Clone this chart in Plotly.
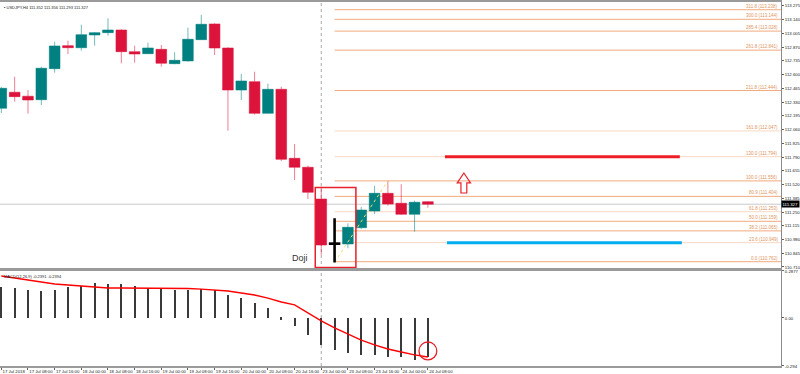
import plotly.graph_objects as go

# ---------------- data ----------------
chart_title = "USDJPY,H4 111.352 111.356 111.293 111.327"
macd_title = "MACD(12,26,9) -0.2391 -0.2394"

bar_index = list(range(33))
open_ = [112.270, 112.427, 112.388, 112.354, 112.659, 112.885, 112.865, 112.990, 113.013, 113.039,
         112.826, 112.806, 112.849, 112.708, 112.735, 112.944, 113.098, 112.862, 112.449, 112.531,
         112.220, 112.456, 111.778, 111.690, 111.378, 110.939, 110.936, 111.096, 111.260, 111.434,
         111.336, 111.228, 111.352]
high = [112.479, 112.580, 112.449, 112.678, 112.924, 112.934, 113.091, 113.020, 113.154, 113.046,
        112.885, 112.914, 112.892, 112.820, 113.062, 113.187, 113.105, 112.869, 112.607, 112.629,
        112.511, 112.482, 111.919, 111.706, 111.499, 111.189, 111.139, 111.300, 111.506, 111.558,
        111.523, 111.362, 111.356]
low = [112.223, 112.335, 112.217, 112.302, 112.620, 112.803, 112.836, 112.885, 112.983, 112.712,
       112.718, 112.803, 112.678, 112.702, 112.728, 112.941, 112.793, 112.049, 112.351, 112.207,
       112.218, 111.752, 111.565, 111.378, 110.828, 110.755, 110.894, 111.083, 111.231, 111.312,
       111.221, 111.057, 111.293]
close = [112.466, 112.384, 112.351, 112.663, 112.882, 112.865, 112.993, 113.013, 113.039, 112.826,
         112.803, 112.862, 112.712, 112.741, 112.948, 113.095, 112.862, 112.449, 112.538, 112.220,
         112.456, 111.768, 111.690, 111.444, 110.926, 110.943, 111.100, 111.270, 111.434, 111.329,
         111.228, 111.346, 111.327]

macd_hist = [0.192, 0.182, 0.171, 0.165, 0.171, 0.192, 0.198, 0.212, 0.206, 0.206,
             0.198, 0.185, 0.177, 0.171, 0.171, 0.177, 0.171, 0.141, 0.122, 0.092,
             0.061, -0.010, -0.050, -0.104, -0.165, -0.196, -0.214, -0.226, -0.226, -0.239,
             -0.239, -0.257, -0.239]
macd_signal = [0.257, 0.245, 0.233, 0.220, 0.208, 0.202, 0.196, 0.190, 0.184, 0.184,
               0.184, 0.184, 0.184, 0.184, 0.181, 0.177, 0.171, 0.165, 0.153, 0.141,
               0.122, 0.098, 0.080, 0.031, -0.018, -0.061, -0.098, -0.135, -0.165, -0.190,
               -0.208, -0.226, -0.239]

tick_index = [0, 2, 4, 6, 8, 10, 12, 14, 16, 18, 20, 22, 24, 26, 28, 30, 32]
tick_text = ["17 Jul 2018", "17 Jul 08:00", "17 Jul 16:00", "18 Jul 00:00", "18 Jul 08:00",
             "18 Jul 16:00", "19 Jul 00:00", "19 Jul 08:00", "19 Jul 16:00", "20 Jul 00:00",
             "20 Jul 08:00", "20 Jul 16:00", "23 Jul 00:00", "23 Jul 08:00", "23 Jul 16:00",
             "24 Jul 00:00", "24 Jul 08:00"]

price_ticks = ["113.275", "113.140", "113.005", "112.870", "112.735", "112.600", "112.465",
               "112.330", "112.195", "112.060", "111.925", "111.790", "111.655", "111.520",
               "111.385", "111.250", "111.115", "110.980", "110.845", "110.710"]
macd_ticks = ["0.2877", "0.00", "-0.294"]

fib_levels = ["311.8", "300.0", "285.4", "261.8", "211.8", "161.8", "130.0", "100.0",
              "80.9", "61.8", "50.0", "38.2", "23.6", "0.0"]
fib_prices = [113.238, 113.144, 113.028, 112.841, 112.444, 112.047, 111.794, 111.556,
              111.404, 111.253, 111.159, 111.065, 110.949, 110.762]
fib_pale = [False, False, False, False, False, True, True, False, False, True, False, False, True, False]

current_price = 111.327
doji_bar = 25
zigzag_bars = [25, 29]
zigzag_prices = [110.755, 111.558]
target_price = 111.794     # red line
stop_price = 110.949       # blue line

# ---------------- figure ----------------
X0, X1 = -0.1, 58.49
TEAL = "#008080"
RED = "#dc143c"
FONT = "Liberation Sans"

fig = go.Figure()

fig.add_trace(go.Scatter(x=zigzag_bars, y=zigzag_prices, mode="lines",
                         line=dict(color="#f3dc6a", width=1, dash="dot"),
                         xaxis="x", yaxis="y", hoverinfo="skip", showlegend=False))

fig.add_trace(go.Candlestick(
    x=bar_index, open=open_, high=high, low=low, close=close,
    increasing=dict(fillcolor=TEAL, line=dict(color="rgba(0,128,128,0.55)", width=1)),
    decreasing=dict(fillcolor=RED, line=dict(color="rgba(220,20,60,0.55)", width=1)),
    whiskerwidth=0, xaxis="x", yaxis="y", showlegend=False))

d = doji_bar
fig.add_trace(go.Scatter(x=[d, d], y=[high[d], low[d]], mode="lines",
                         line=dict(color="black", width=2.6), xaxis="x", yaxis="y",
                         hoverinfo="skip", showlegend=False))
fig.add_trace(go.Scatter(x=[d - 0.43, d + 0.43], y=[open_[d], open_[d]], mode="lines",
                         line=dict(color="black", width=2.6), xaxis="x", yaxis="y",
                         hoverinfo="skip", showlegend=False))

fig.add_trace(go.Scatter(x=[33.28, 50.9], y=[target_price, target_price], mode="lines",
                         line=dict(color="#ee1c24", width=3), xaxis="x", yaxis="y",
                         hoverinfo="skip", showlegend=False))
fig.add_trace(go.Scatter(x=[33.43, 51.05], y=[stop_price, stop_price], mode="lines",
                         line=dict(color="#00aeef", width=3), xaxis="x", yaxis="y",
                         hoverinfo="skip", showlegend=False))

fig.add_trace(go.Bar(x=bar_index, y=macd_hist, width=0.08, marker=dict(color="#3a3a3a", line=dict(width=0)),
                     xaxis="x2", yaxis="y2", showlegend=False))
fig.add_trace(go.Scatter(x=bar_index, y=macd_signal, mode="lines",
                         line=dict(color="#ff0000", width=1.4), xaxis="x2", yaxis="y2",
                         showlegend=False))

shapes = []
shapes.append(dict(type="line", xref="x", yref="y", x0=X0, x1=X1 + 1, y0=current_price, y1=current_price,
                   line=dict(color="#c8c8c8", width=1), layer="below"))
for p, pale in zip(fib_prices, fib_pale):
    shapes.append(dict(type="line", xref="x", yref="y", x0=doji_bar, x1=X1 + 1, y0=p, y1=p,
                       line=dict(color="#f8d8c4" if pale else "#f2aa7c", width=1), layer="below"))
shapes.append(dict(type="line", xref="x", yref="paper", x0=24, x1=24, y0=0, y1=1,
                   line=dict(color="#a8a8a8", width=1, dash="dot"), layer="below"))
shapes.append(dict(type="rect", xref="x", yref="y", x0=23.55, x1=26.6, y0=110.705, y1=111.49,
                   line=dict(color="#e8202a", width=1.5)))
ax, tip, base, bot = 34.7, 111.634, 111.536, 111.437
shapes.append(dict(type="path", xref="x", yref="y",
                   path=(f"M {ax},{tip} L {ax+0.5},{base} L {ax+0.22},{base} L {ax+0.22},{bot} "
                         f"L {ax-0.22},{bot} L {ax-0.22},{base} L {ax-0.5},{base} Z"),
                   line=dict(color="#e8202a", width=1.2), fillcolor="rgba(0,0,0,0)"))
shapes.append(dict(type="circle", xref="x2", yref="y2", x0=31.33, x1=32.67, y0=-0.257, y1=-0.147,
                   line=dict(color="#e8202a", width=1.3)))

annotations = []
for lvl, p, pale in zip(fib_levels, fib_prices, fib_pale):
    annotations.append(dict(xref="paper", yref="y", x=1, y=p, xanchor="right", yanchor="bottom",
                            text=f"{lvl} ({p:.3f})", showarrow=False,
                            font=dict(family=FONT, size=4.5, color="#e0955e"), xshift=-1, yshift=-1))
annotations.append(dict(xref="paper", yref="y", x=1, y=current_price, xanchor="left", yanchor="middle",
                        text=f"{current_price:.3f}", showarrow=False, bgcolor="black", borderpad=0.5,
                        font=dict(family=FONT, size=4.3, color="white")))
annotations.append(dict(xref="x", yref="y", x=22.4, y=110.80, text="Doji", showarrow=False,
                        font=dict(family=FONT, size=9, color="#333333")))
annotations.append(dict(xref="paper", yref="paper", x=0.003, y=0.998, xanchor="left", yanchor="top",
                        text="▪ " + chart_title, showarrow=False,
                        font=dict(family=FONT, size=4, color="#222222")))
annotations.append(dict(xref="paper", yref="paper", x=0.003, y=0.257, xanchor="left", yanchor="top",
                        text=macd_title, showarrow=False,
                        font=dict(family=FONT, size=4, color="#222222")))

axis_font = dict(family=FONT, size=4.3, color="#202020")
fig.update_layout(
    width=800, height=374,
    margin=dict(l=0, r=19, t=2, b=8, autoexpand=False),
    paper_bgcolor="white", plot_bgcolor="white",
    showlegend=False, boxgap=0.2, boxgroupgap=0, bargap=0,
    xaxis=dict(domain=[0, 1], anchor="y", range=[X0, X1], showticklabels=False, ticks="",
               showgrid=False, zeroline=False, showline=True, linecolor="#9a9a9a", linewidth=1.5,
               mirror=True, rangeslider=dict(visible=False), automargin=False),
    yaxis=dict(domain=[0.2692, 1], anchor="x", side="right", range=[110.700, 113.314],
               tickvals=[float(t) for t in price_ticks], ticktext=price_ticks,
               ticks="outside", ticklen=2, tickcolor="#606060", tickfont=axis_font,
               ticklabeloverflow="allow", automargin=False,
               showgrid=False, zeroline=False, showline=True, linecolor="#8a8a8a", linewidth=1),
    xaxis2=dict(domain=[0, 1], anchor="y2", range=[X0, X1], matches="x",
                tickvals=tick_index, ticktext=tick_text, ticklabelposition="outside right",
                tickangle=0, ticklabeloverflow="allow", automargin=False,
                ticks="outside", ticklen=2, tickcolor="#606060", tickfont=axis_font,
                showgrid=False, zeroline=False, showline=True, linecolor="#9a9a9a", linewidth=1.5,
                mirror=True),
    yaxis2=dict(domain=[0, 0.261], anchor="x2", side="right", range=[-0.294, 0.2877],
                tickvals=[float(t) for t in macd_ticks], ticktext=macd_ticks,
                ticks="outside", ticklen=2, tickcolor="#606060", tickfont=axis_font,
                ticklabeloverflow="allow", automargin=False,
                showgrid=False, zeroline=False, showline=True, linecolor="#8a8a8a", linewidth=1),
    shapes=shapes, annotations=annotations,
)

fig.write_html("out.html", config={"displayModeBar": False},
               post_script="document.body.style.margin='0';document.body.style.overflow='hidden';")
